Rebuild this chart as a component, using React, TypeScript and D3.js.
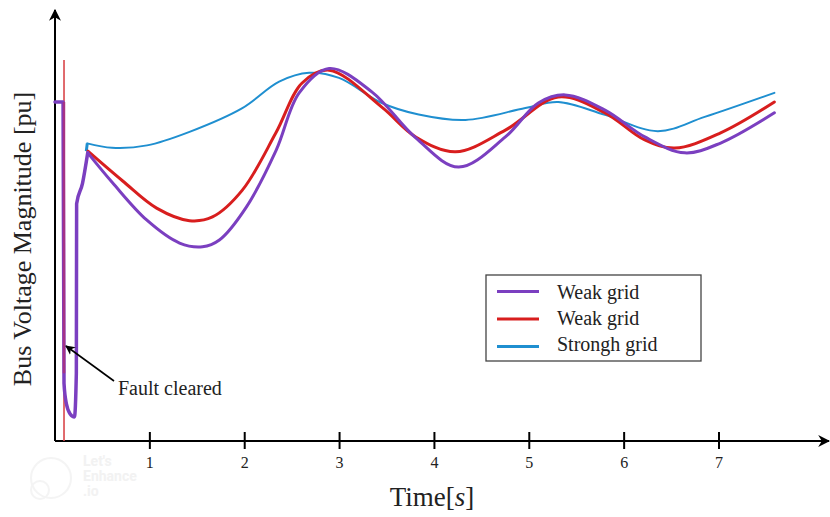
import React, { useEffect, useRef } from "react";
import * as d3 from "d3";

// time in seconds, bus voltage in pu
const weakTime1 = [0, 0.085, 0.095, 0.12, 0.16, 0.205, 0.225, 0.228, 0.29, 0.345, 0.609, 0.966, 1.313, 1.555, 1.733, 2.017, 2.332, 2.574, 2.89, 3.34, 3.8, 4.254, 4.748, 5.095, 5.378, 5.798, 6.218, 6.639, 7.017, 7.584];
const weakVolt1 = [1.0, 1.0, 0.17, 0.11, 0.08, 0.071, 0.2, 0.7, 0.76, 0.85, 0.761, 0.652, 0.584, 0.573, 0.593, 0.69, 0.858, 1.027, 1.099, 1.03, 0.895, 0.808, 0.897, 0.997, 1.021, 0.976, 0.897, 0.85, 0.879, 0.968];

const weakTime2 = [0.347, 0.714, 1.071, 1.418, 1.66, 1.975, 2.329, 2.605, 2.89, 3.445, 3.803, 4.223, 4.748, 5.305, 5.798, 6.218, 6.534, 7.017, 7.584];
const weakVolt2 = [0.855, 0.767, 0.687, 0.65, 0.661, 0.74, 0.909, 1.056, 1.094, 0.985, 0.897, 0.853, 0.917, 1.015, 0.968, 0.888, 0.864, 0.909, 1.0];

const strongTime = [0.34, 0.6, 0.97, 1.418, 1.975, 2.363, 2.679, 2.994, 3.445, 3.834, 4.328, 4.958, 5.305, 5.798, 6.355, 6.849, 7.584];
const strongVolt = [0.878, 0.865, 0.872, 0.912, 0.982, 1.06, 1.086, 1.071, 0.997, 0.963, 0.947, 0.982, 1.0, 0.962, 0.914, 0.956, 1.027];
// little hook where the strong-grid trace starts
const strongHookTime = [0.33, 0.34];
const strongHookVolt = [0.855, 0.878];

const tickValues = [1, 2, 3, 4, 5, 6, 7];
const faultTime = 0.095;
const faultTop = 1.124;
// purple points up to this index belong to the fault/recovery spike
const faultEnd = 9;

const seriesNames = ["Weak grid", "Weak grid", "Strongh grid"];
const seriesColors = ["#7b3fc0", "#d81e1e", "#1f8fd0"];
const seriesWidths = [3, 3, 2];

const App = () => {
  const svgRef = useRef(null);
  const width = 830;
  const height = 517;

  useEffect(() => {
    const svg = d3.select(svgRef.current);
    svg.selectAll("*").remove();

    const x = d3.scaleLinear().domain([0, 7]).range([55, 719]);
    const y = d3.scaleLinear().domain([0, 1]).range([441, 102]);

    const font = "'Liberation Serif', 'DejaVu Serif', serif";

    // watermark
    const wm = svg.append("g").attr("opacity", 0.5);
    wm.append("circle").attr("cx", 51).attr("cy", 478).attr("r", 20).attr("fill", "none").attr("stroke", "#eaeaea").attr("stroke-width", 2);
    wm.append("circle").attr("cx", 40).attr("cy", 490).attr("r", 9).attr("fill", "none").attr("stroke", "#eaeaea").attr("stroke-width", 2);
    ["Let's", "Enhance", ".io"].forEach((t, i) => {
      wm.append("text")
        .attr("x", 83)
        .attr("y", 466 + i * 15)
        .attr("font-family", "Roboto, sans-serif")
        .attr("font-weight", "bold")
        .attr("font-size", 14)
        .attr("fill", "#e6e6e6")
        .text(t);
    });

    // arrow markers
    const defs = svg.append("defs");
    ["axisArrow", "noteArrow"].forEach((id) => {
      defs.append("marker")
        .attr("id", id)
        .attr("viewBox", "0 0 10 10")
        .attr("refX", 9)
        .attr("refY", 5)
        .attr("markerWidth", 6)
        .attr("markerHeight", 6)
        .attr("markerUnits", "strokeWidth")
        .attr("orient", "auto")
        .append("path")
        .attr("d", "M0,0 L10,5 L0,10 L3,5 Z")
        .attr("fill", "#000");
    });

    // axes
    svg.append("line")
      .attr("x1", x(0)).attr("y1", y(0))
      .attr("x2", 829).attr("y2", y(0))
      .attr("stroke", "#000").attr("stroke-width", 2)
      .attr("marker-end", "url(#axisArrow)");
    svg.append("line")
      .attr("x1", x(0)).attr("y1", y(0))
      .attr("x2", x(0)).attr("y2", 10)
      .attr("stroke", "#000").attr("stroke-width", 2)
      .attr("marker-end", "url(#axisArrow)");

    const ticks = svg.append("g");
    tickValues.forEach((v) => {
      ticks.append("line")
        .attr("x1", x(v)).attr("x2", x(v))
        .attr("y1", y(0) - 9).attr("y2", y(0) + 8)
        .attr("stroke", "#000").attr("stroke-width", 2);
      ticks.append("text")
        .attr("x", x(v))
        .attr("y", y(0) + 27)
        .attr("text-anchor", "middle")
        .attr("font-family", font)
        .attr("font-size", 16)
        .attr("fill", "#222")
        .text(v);
    });

    // fault marker line
    svg.append("line")
      .attr("x1", x(faultTime)).attr("x2", x(faultTime))
      .attr("y1", y(faultTop)).attr("y2", y(0))
      .attr("stroke", "#d9464a").attr("stroke-width", 1.6);

    const spike = d3.line()
      .x((d) => x(d[0]))
      .y((d) => y(d[1]))
      .curve(d3.curveMonotoneX);
    const smooth = d3.line()
      .x((d) => x(d[0]))
      .y((d) => y(d[1]))
      .curve(d3.curveCatmullRom.alpha(0.5));

    const purple = d3.zip(weakTime1, weakVolt1);
    const series = [
      purple.slice(faultEnd),
      d3.zip(weakTime2, weakVolt2),
      d3.zip(strongTime, strongVolt),
    ];

    svg.append("path")
      .datum(d3.zip(strongHookTime, strongHookVolt))
      .attr("fill", "none")
      .attr("stroke", seriesColors[2])
      .attr("stroke-width", 3)
      .attr("d", spike);

    [2, 1, 0].forEach((i) => {
      svg.append("path")
        .datum(series[i])
        .attr("fill", "none")
        .attr("stroke", seriesColors[i])
        .attr("stroke-width", seriesWidths[i])
        .attr("stroke-linejoin", "round")
        .attr("stroke-linecap", "round")
        .attr("d", smooth);
    });
    svg.append("path")
      .datum(purple.slice(0, faultEnd + 1))
      .attr("fill", "none")
      .attr("stroke", seriesColors[0])
      .attr("stroke-width", 3.5)
      .attr("stroke-linejoin", "round")
      .attr("stroke-linecap", "round")
      .attr("d", spike);

    // fault line overlapping purple drop
    svg.append("line")
      .attr("x1", x(faultTime)).attr("x2", x(faultTime))
      .attr("y1", y(1)).attr("y2", y(0.2))
      .attr("stroke", "#b0307a").attr("stroke-width", 2.5).attr("opacity", 0.8);

    // annotation
    svg.append("line")
      .attr("x1", 114).attr("y1", 381)
      .attr("x2", 66).attr("y2", 346)
      .attr("stroke", "#000").attr("stroke-width", 1.6)
      .attr("marker-end", "url(#noteArrow)");
    svg.append("text")
      .attr("x", 118)
      .attr("y", 395)
      .attr("font-family", font)
      .attr("font-size", 20)
      .attr("fill", "#222")
      .text("Fault cleared");

    // legend
    const lg = svg.append("g").attr("transform", "translate(486,275)");
    lg.append("rect")
      .attr("width", 215).attr("height", 86)
      .attr("fill", "#fff").attr("stroke", "#444").attr("stroke-width", 1.3);
    seriesNames.forEach((name, i) => {
      lg.append("line")
        .attr("x1", 11).attr("x2", 53)
        .attr("y1", 16.5 + i * 27.5).attr("y2", 16.5 + i * 27.5)
        .attr("stroke", seriesColors[i]).attr("stroke-width", 3);
      lg.append("text")
        .attr("x", 71)
        .attr("y", 23.5 + i * 26)
        .attr("font-family", font)
        .attr("font-size", 20)
        .attr("fill", "#222")
        .text(name);
    });

    // axis titles
    const xt = svg.append("text")
      .attr("x", 432)
      .attr("y", 506)
      .attr("text-anchor", "middle")
      .attr("font-family", font)
      .attr("font-size", 27)
      .attr("fill", "#222");
    xt.append("tspan").text("Time[");
    xt.append("tspan").attr("font-style", "italic").text("s");
    xt.append("tspan").text("]");

    svg.append("text")
      .attr("transform", "translate(31,239) rotate(-90)")
      .attr("text-anchor", "middle")
      .attr("font-family", font)
      .attr("font-size", 26)
      .attr("fill", "#222")
      .text("Bus Voltage Magnitude [pu]");
  }, []);

  return (
    <svg
      ref={svgRef}
      width={width}
      height={height}
      style={{ position: "absolute", left: 0, top: 0, background: "#fff" }}
    ></svg>
  );
};

export default App;
